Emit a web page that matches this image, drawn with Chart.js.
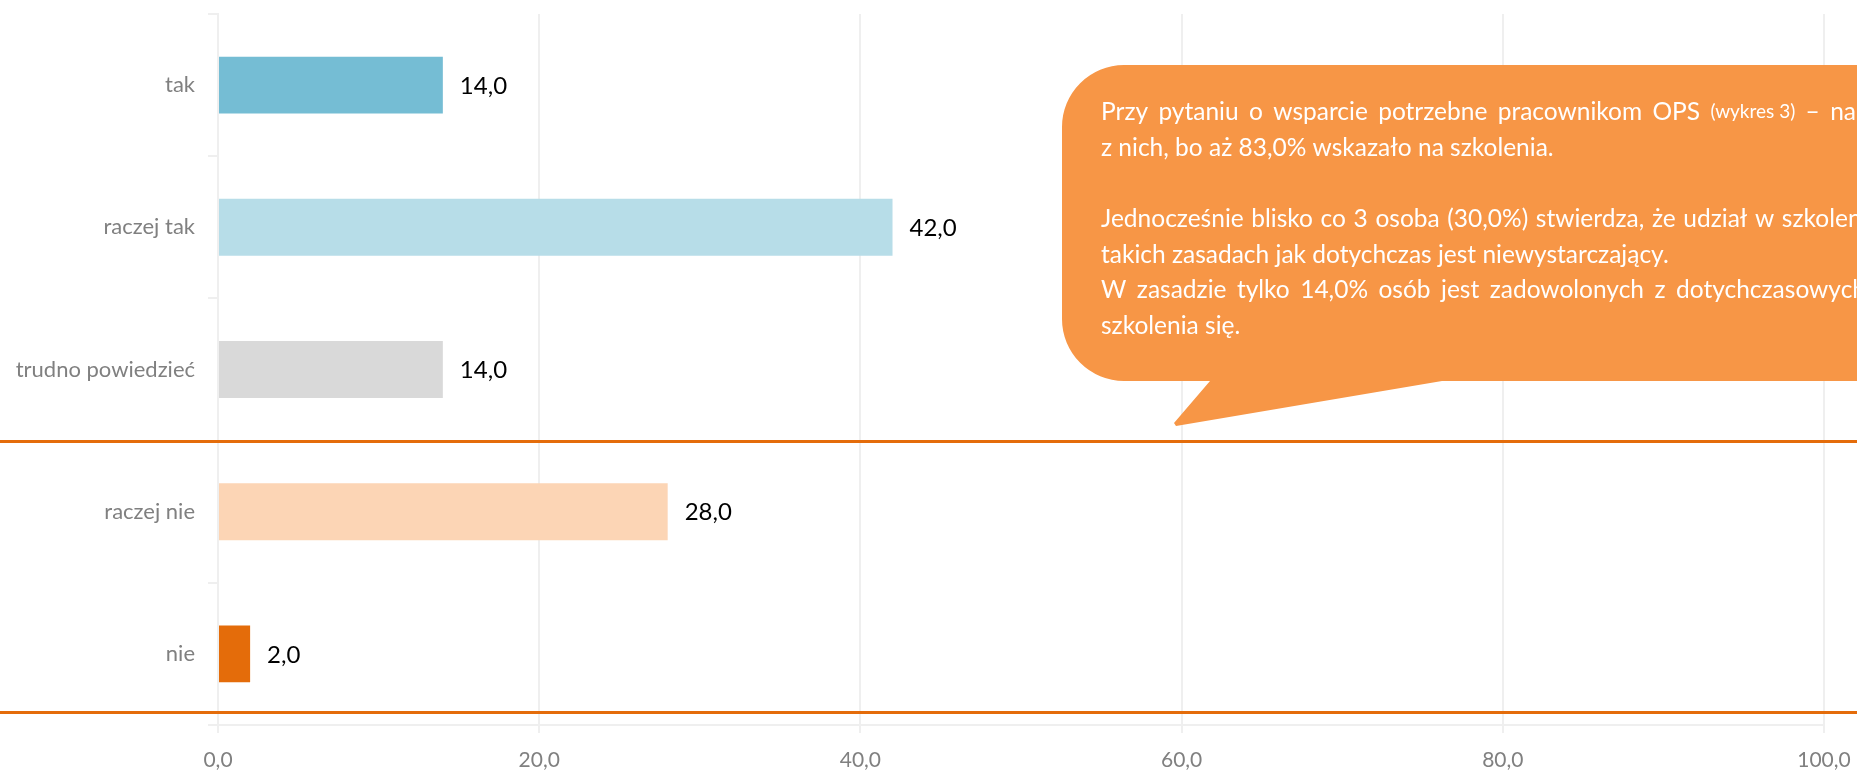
<!DOCTYPE html>
<html>
<head>
<meta charset="utf-8">
<script src="https://cdn.jsdelivr.net/npm/chart.js@4"></script>
<style>
    html, body { margin: 0; padding: 0; background: #fff; overflow: hidden; }
    #wrap { width: 1857px; height: 770px; }
</style>
</head>
<body>
<div id="wrap"><canvas id="chart"></canvas></div>
<script>
const categories = ['tak', 'raczej tak', 'trudno powiedzieć', 'raczej nie', 'nie'];
const values = [14.0, 42.0, 14.0, 28.0, 2.0];
const barColors = ['#75BDD4', '#B7DDE8', '#D9D9D9', '#FCD5B5', '#E46C0A'];
const xTicks = [0, 20, 40, 60, 80, 100];
// orange separator lines, in category units
const separators = [2.5, 4.41];

// callout text, one entry per line; right = stretch words to that right edge
const calloutLines = [
    { words: ['Przy', 'pytaniu', 'o', 'wsparcie', 'potrzebne', 'pracownikom', 'OPS', '(wykres 3)', '–', 'na'], right: 1856 },
    { words: ['z', 'nich,', 'bo', 'aż', '83,0%', 'wskazało', 'na', 'szkolenia.'] },
    { words: [] },
    { words: ['Jednocześnie', 'blisko', 'co', '3', 'osoba', '(30,0%)', 'stwierdza,', 'że', 'udział', 'w', 'szkoleniach'], right: 1905 },
    { words: ['takich', 'zasadach', 'jak', 'dotychczas', 'jest', 'niewystarczający.'] },
    { words: ['W', 'zasadzie', 'tylko', '14,0%', 'osób', 'jest', 'zadowolonych', 'z', 'dotychczasowych'], right: 1866 },
    { words: ['szkolenia', 'się.'] }
];
const smallWords = ['(wykres 3)'];

const fmt = (v) => Number(v).toFixed(1).replace('.', ',');

// value labels to the right of each bar
const valueLabels = {
    id: 'valueLabels',
    afterDatasetsDraw(chart) {
        const ctx = chart.ctx;
        const meta = chart.getDatasetMeta(0);
        ctx.save();
        ctx.font = '24px Lato';
        ctx.fillStyle = '#000000';
        ctx.textBaseline = 'middle';
        ctx.textAlign = 'left';
        meta.data.forEach((bar, i) => {
            ctx.fillText(fmt(values[i]), bar.x + 17, bar.y + 1);
        });
        ctx.restore();
    }
};

// orange lines + speech bubble
const overlay = {
    id: 'overlay',
    afterDraw(chart) {
        const ctx = chart.ctx;
        const y = chart.scales.y;
        ctx.save();

        ctx.strokeStyle = '#E46C0A';
        ctx.lineWidth = 3;
        separators.forEach(s => {
            const py = Math.round(y.getPixelForValue(s)) + 0.5;
            ctx.beginPath();
            ctx.moveTo(0, py);
            ctx.lineTo(chart.width, py);
            ctx.stroke();
        });

        // bubble
        const x0 = 1062, y0 = 65, y1 = 381, x1 = 1990, r = 62;
        ctx.fillStyle = '#F79646';
        ctx.beginPath();
        ctx.moveTo(x0 + r, y0);
        ctx.lineTo(x1, y0);
        ctx.lineTo(x1, y1);
        ctx.lineTo(1442, y1);
        ctx.lineTo(1176, 426);
        ctx.lineTo(1174, 423);
        ctx.lineTo(1210, y1);
        ctx.lineTo(x0 + r, y1);
        ctx.arcTo(x0, y1, x0, y1 - r, r);
        ctx.lineTo(x0, y0 + r);
        ctx.arcTo(x0, y0, x0 + r, y0, r);
        ctx.closePath();
        ctx.fill();

        // text
        ctx.fillStyle = '#FFFFFF';
        ctx.textBaseline = 'middle';
        ctx.textAlign = 'left';
        const big = '24.5px Lato', small = '19px Lato';
        const left = 1101, top = 112, lh = 35.7;
        calloutLines.forEach((line, i) => {
            const ly = top + i * lh;
            const widths = line.words.map(w => {
                ctx.font = smallWords.includes(w) ? small : big;
                return ctx.measureText(w).width;
            });
            ctx.font = big;
            let gap = ctx.measureText(' ').width;
            if (line.right && line.words.length > 1) {
                const total = widths.reduce((a, b) => a + b, 0);
                gap = Math.max(gap, (line.right - left - total) / (line.words.length - 1));
            }
            let px = left;
            line.words.forEach((w, k) => {
                ctx.font = smallWords.includes(w) ? small : big;
                ctx.fillText(w, px, ly);
                px += widths[k] + gap;
            });
        });
        ctx.restore();
    }
};

new Chart('chart', {
    type: 'bar',
    data: {
        labels: categories,
        datasets: [{
            data: values,
            backgroundColor: barColors,
            borderWidth: 0,
            barPercentage: 0.8,
            categoryPercentage: 0.5
        }]
    },
    options: {
        indexAxis: 'y',
        responsive: true,
        maintainAspectRatio: false,
        animation: false,
        layout: { padding: { top: 14, right: 33, left: 0, bottom: 0 } },
        plugins: {
            legend: { display: false },
            tooltip: { enabled: false }
        },
        scales: {
            x: {
                min: 0,
                max: 100,
                afterBuildTicks: (s) => { s.ticks = xTicks.map(v => ({ value: v })); },
                ticks: {
                    callback: (v) => fmt(v),
                    color: '#808080',
                    font: { family: 'Lato', size: 21 },
                    padding: 15,
                    maxRotation: 0
                },
                grid: { color: '#EFEFEF', lineWidth: 2, tickLength: 8 },
                border: { color: '#EFEFEF', width: 2 },
                afterFit: (s) => { s.height = 45; s.paddingLeft = 0; s.paddingRight = 0; }
            },
            y: {
                ticks: {
                    color: '#808080',
                    font: { family: 'Lato', size: 22 },
                    padding: 13
                },
                grid: { drawOnChartArea: false, color: '#EFEFEF', lineWidth: 2, tickLength: 10, offset: true },
                border: { color: '#EFEFEF', width: 2 },
                afterFit: (s) => { s.width = 218; s.paddingTop = 0; s.paddingBottom = 0; }
            }
        }
    },
    plugins: [valueLabels, overlay]
});
</script>
</body>
</html>
